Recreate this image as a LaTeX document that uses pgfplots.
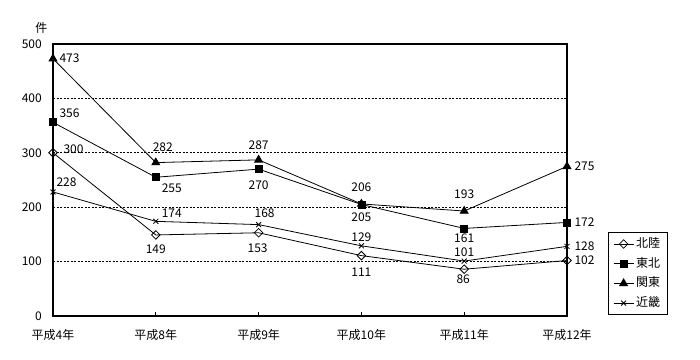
\documentclass[border=0pt]{standalone}
\usepackage{pgfplots}
\pgfplotsset{compat=1.18}
\usepackage{pgfplotstable}
\usepackage{fontspec}
\setmainfont{Noto Sans CJK JP}

\pgfplotstableread{
x y dx dy
0 300 20.5 4
1 149 0 -14
2 153 -1 -15
3 111 0 -17
4 86 -1 -10
5 102 17.5 0
}\hokuriku

\pgfplotstableread{
x y dx dy
0 356 16.5 9
1 255 16 -11
2 270 0 -16
3 205 0 -13
4 161 0 -10
5 172 17.5 0
}\tohoku

\pgfplotstableread{
x y dx dy
0 473 16.5 0
1 282 7 15.5
2 287 0 15
3 206 0 17
4 193 0 17
5 275 17.5 0
}\kanto

\pgfplotstableread{
x y dx dy
0 228 13.5 10
1 174 16 8
2 168 6 11
3 129 0 9
4 101 0 9
5 128 17.5 0
}\kinki

\begin{document}
\fontsize{12bp}{14bp}\selectfont
\begin{tikzpicture}
\useasboundingbox (0,0) rectangle (700bp,360bp);
\begin{axis}[
  at={(53bp,44bp)}, anchor=south west,
  scale only axis, width=514bp, height=272bp,
  xmin=0, xmax=5, ymin=0, ymax=500,
  xtick={0,...,5},
  xticklabels={平成4年,平成8年,平成9年,平成10年,平成11年,平成12年},
  ytick={0,100,...,500},
  tick align=inside, major tick length=4bp,
  xtick pos=bottom, ytick style={draw=none},
  xtick style={black, line width=0.8bp},
  axis line style={line width=1.5bp},
  ymajorgrids,
  grid style={black, line width=0.8bp, dash pattern=on 2bp off 1.5bp},
  /pgf/number format/assume math mode=true,
  yticklabel style={anchor=east, inner sep=0pt, xshift=-11bp},
  xticklabel style={anchor=center, inner sep=0pt, yshift=-19bp},
  ylabel={件},
  ylabel style={rotate=-90, at={(rel axis cs:-0.0224,1.059)}, anchor=center},
  clip=false,
  nodes near coords,
  visualization depends on={\thisrow{dx} \as \dx},
  visualization depends on={\thisrow{dy} \as \dy},
  every node near coord/.append style={anchor=center, inner sep=0pt, xshift=\dx bp, yshift=\dy bp, text=black},
  legend style={at={(1.0792,0.31)}, anchor=north west, draw=black, line width=1bp,
    inner xsep=5bp, inner ysep=4.3bp, row sep=4.7bp,
    nodes={inner sep=2bp, text height=9bp, text depth=2bp}},
  legend cell align=left,
  legend image code/.code={\draw[mark repeat=2,mark phase=2] plot coordinates {(0bp,0bp) (10bp,0bp) (20bp,0bp)};},
]
\addplot[black, line width=0.8bp, mark=square, mark size=3bp, mark options={rotate=45, fill=white, solid, line width=0.8bp}] table[x=x,y=y] {\hokuriku};
\addlegendentry{北陸}
\addplot[black, line width=0.8bp, mark=square*, mark size=3.5bp] table[x=x,y=y] {\tohoku};
\addlegendentry{東北}
\addplot[black, line width=0.8bp, mark=triangle*, mark size=4.5bp] table[x=x,y=y] {\kanto};
\addlegendentry{関東}
\addplot[black, line width=0.8bp, mark=x, mark size=3.5bp] table[x=x,y=y] {\kinki};
\addlegendentry{近畿}
\end{axis}
\end{tikzpicture}
\end{document}
